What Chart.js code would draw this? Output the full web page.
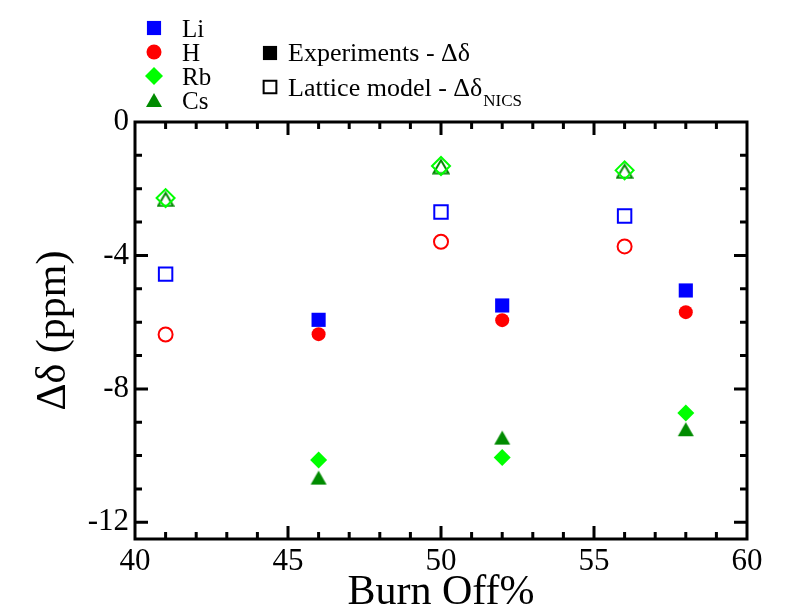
<!DOCTYPE html>
<html>
<head>
<meta charset="utf-8">
<script src="https://cdn.jsdelivr.net/npm/chart.js@4/dist/chart.umd.min.js"></script>
<style>
  html, body { margin: 0; padding: 0; background: #fff; }
  #wrap { width: 792px; height: 612px; position: relative; }
</style>
</head>
<body>
<div id="wrap"><canvas id="shiftChart"></canvas></div>
<script>
// burn off % where each set was measured / modelled
const burnOffExp = [46, 52, 58];
const burnOffLat = [41, 50, 56];

// experiments - delta delta (ppm)
const liExp = [-5.93, -5.50, -5.05];
const hExp  = [-6.36, -5.94, -5.70];
const rbExp = [-10.13, -10.06, -8.72];
const csExp = [-10.66, -9.46, -9.21];

// lattice model - delta delta NICS (ppm)
const liLat = [-4.56, -2.70, -2.82];
const hLat  = [-6.37, -3.59, -3.73];
const rbLat = [-2.28, -1.32, -1.45];
const csLat = [-2.32, -1.34, -1.48];

// tick labels
const xTicks = [40, 45, 50, 55, 60];
const yTicks = [-12, -8, -4, 0];

const SERIF = '"Liberation Serif", "DejaVu Serif", serif';
const BLUE = '#0000ff', RED = '#ff0000', LIME = '#00ff00', DKGREEN = '#008b00';

// triangle as an image so it sits centred on its box, like the original plot
function triangleImage(color, isOpen) {
	const c = document.createElement('canvas');
	c.width = 18; c.height = 16;
	const g = c.getContext('2d');
	g.beginPath();
	if (isOpen) {
		g.moveTo(9, 1.5); g.lineTo(16.5, 14.5); g.lineTo(1.5, 14.5);
		g.closePath();
		g.lineWidth = 2; g.strokeStyle = color; g.stroke();
	} else {
		g.moveTo(9, 1); g.lineTo(17, 15); g.lineTo(1, 15);
		g.closePath();
		g.fillStyle = color; g.fill();
	}
	return c;
}
const triFilled = triangleImage(DKGREEN, false);
const triOpen = triangleImage(DKGREEN, true);

function pts(xs, ys) {
	return xs.map((x, i) => ({x: x, y: ys[i]}));
}

function filled(label, xs, ys, color, style, r) {
	return {
		label: label, data: pts(xs, ys),
		pointStyle: style, pointRadius: r, pointHoverRadius: r,
		backgroundColor: color, borderColor: color, borderWidth: 0,
		showLine: false
	};
}

function open(label, xs, ys, color, style, r) {
	return {
		label: label, data: pts(xs, ys),
		pointStyle: style, pointRadius: r, pointHoverRadius: r,
		backgroundColor: 'rgba(0,0,0,0)', borderColor: color, borderWidth: 2,
		showLine: false
	};
}

// small marker painter for the legend
function marker(ctx, style, x, y, r, color, isOpen) {
	ctx.save();
	if (style == 'triangle') {
		ctx.drawImage(triFilled, x - 9, y - 8);
		ctx.restore();
		return;
	}
	ctx.beginPath();
	if (style == 'rect') {
		const s = r * Math.SQRT1_2;
		ctx.rect(x - s, y - s, 2 * s, 2 * s);
	} else if (style == 'circle') {
		ctx.arc(x, y, r, 0, Math.PI * 2);
	} else if (style == 'rectRot') {
		ctx.moveTo(x, y - r); ctx.lineTo(x + r, y); ctx.lineTo(x, y + r); ctx.lineTo(x - r, y);
		ctx.closePath();
	}
	if (isOpen) {
		ctx.lineWidth = 2; ctx.strokeStyle = color; ctx.stroke();
	} else {
		ctx.fillStyle = color; ctx.fill();
	}
	ctx.restore();
}

const framePlugin = {
	id: 'frame',
	afterDraw(chart) {
		const ctx = chart.ctx;
		const a = chart.chartArea;
		const xs = chart.scales.x, ys = chart.scales.y;
		ctx.save();
		ctx.strokeStyle = '#000';
		ctx.lineWidth = 3;
		ctx.lineCap = 'butt';
		ctx.strokeRect(a.left, a.top, a.right - a.left, a.bottom - a.top);

		// inward ticks on all four sides
		ctx.beginPath();
		for (let v = 41; v < 60; v++) {
			const px = xs.getPixelForValue(v);
			const len = (v % 5 == 0) ? 13 : 7;
			ctx.moveTo(px, a.bottom); ctx.lineTo(px, a.bottom - len);
			ctx.moveTo(px, a.top); ctx.lineTo(px, a.top + len);
		}
		for (let v = -12; v < 0; v++) {
			const py = ys.getPixelForValue(v);
			const len = (v % 4 == 0) ? 13 : 7;
			ctx.moveTo(a.left, py); ctx.lineTo(a.left + len, py);
			ctx.moveTo(a.right, py); ctx.lineTo(a.right - len, py);
		}
		ctx.stroke();

		// legend - elements
		const rows = [
			['Li', 'rect', BLUE, 10],
			['H', 'circle', RED, 7.5],
			['Rb', 'rectRot', LIME, 9],
			['Cs', 'triangle', DKGREEN, 10]
		];
		ctx.font = '25px ' + SERIF;
		ctx.fillStyle = '#000';
		ctx.textBaseline = 'alphabetic';
		ctx.textAlign = 'left';
		rows.forEach((row, i) => {
			const cy = 28 + i * 24;
			marker(ctx, row[1], 154, cy, row[3], row[2], false);
			ctx.fillStyle = '#000';
			ctx.fillText(row[0], 182, cy + 9);
		});

		// legend - data kind
		marker(ctx, 'rect', 270, 53, 10, '#000', false);
		marker(ctx, 'rect', 270, 87, 9, '#000', true);
		ctx.fillStyle = '#000';
		ctx.font = '26px ' + SERIF;
		ctx.fillText('Experiments - \u0394\u03b4', 288, 61);
		ctx.fillText('Lattice model - \u0394\u03b4', 288, 96);
		const w = ctx.measureText('Lattice model - \u0394\u03b4').width;
		ctx.font = '17px ' + SERIF;
		ctx.fillText('NICS', 289 + w, 106);
		ctx.restore();
	}
};

const ctx = document.getElementById('shiftChart').getContext('2d');
const shiftChart = new Chart(ctx, {
	type: 'scatter',
	data: {
		datasets: [
			filled('Li', burnOffExp, liExp, BLUE, 'rect', 10),
			filled('H', burnOffExp, hExp, RED, 'circle', 7),
			filled('Rb', burnOffExp, rbExp, LIME, 'rectRot', 8.5),
			filled('Cs', burnOffExp, csExp, DKGREEN, triFilled, 9),
			open('Li NICS', burnOffLat, liLat, BLUE, 'rect', 9.5),
			open('H NICS', burnOffLat, hLat, RED, 'circle', 7),
			open('Rb NICS', burnOffLat, rbLat, LIME, 'rectRot', 9),
			open('Cs NICS', burnOffLat, csLat, DKGREEN, triOpen, 9)
		]
	},
	options: {
		responsive: true,
		maintainAspectRatio: false,
		animation: false,
		layout: { padding: { top: 122, right: 45, left: 0, bottom: 0 } },
		plugins: {
			legend: { display: false },
			tooltip: { enabled: false }
		},
		scales: {
			x: {
				type: 'linear',
				min: 40, max: 60,
				afterBuildTicks: (s) => { s.ticks = xTicks.map(v => ({value: v})); },
				afterFit: (s) => { s.height = 73; },
				grid: { display: false, drawTicks: false },
				border: { display: false },
				ticks: {
					color: '#000', padding: 4,
					font: { family: SERIF, size: 31 },
					callback: (v) => String(v)
				},
				title: {
					display: true, text: 'Burn Off%', color: '#000',
					font: { family: SERIF, size: 42, lineHeight: 1 },
					padding: { top: 0, bottom: -2 }
				}
			},
			y: {
				min: -12.5, max: 0,
				afterBuildTicks: (s) => { s.ticks = yTicks.map(v => ({value: v})); },
				afterFit: (s) => { s.width = 135; },
				grid: { display: false, drawTicks: false },
				border: { display: false },
				ticks: {
					color: '#000', padding: 6,
					font: { family: SERIF, size: 31 },
					callback: (v) => String(v)
				},
				title: {
					display: true, text: '\u0394\u03b4 (ppm)', color: '#000',
					font: { family: SERIF, size: 42, lineHeight: 1 },
					padding: { top: 33, bottom: 0 }
				}
			}
		}
	},
	plugins: [framePlugin]
});
</script>
</body>
</html>
